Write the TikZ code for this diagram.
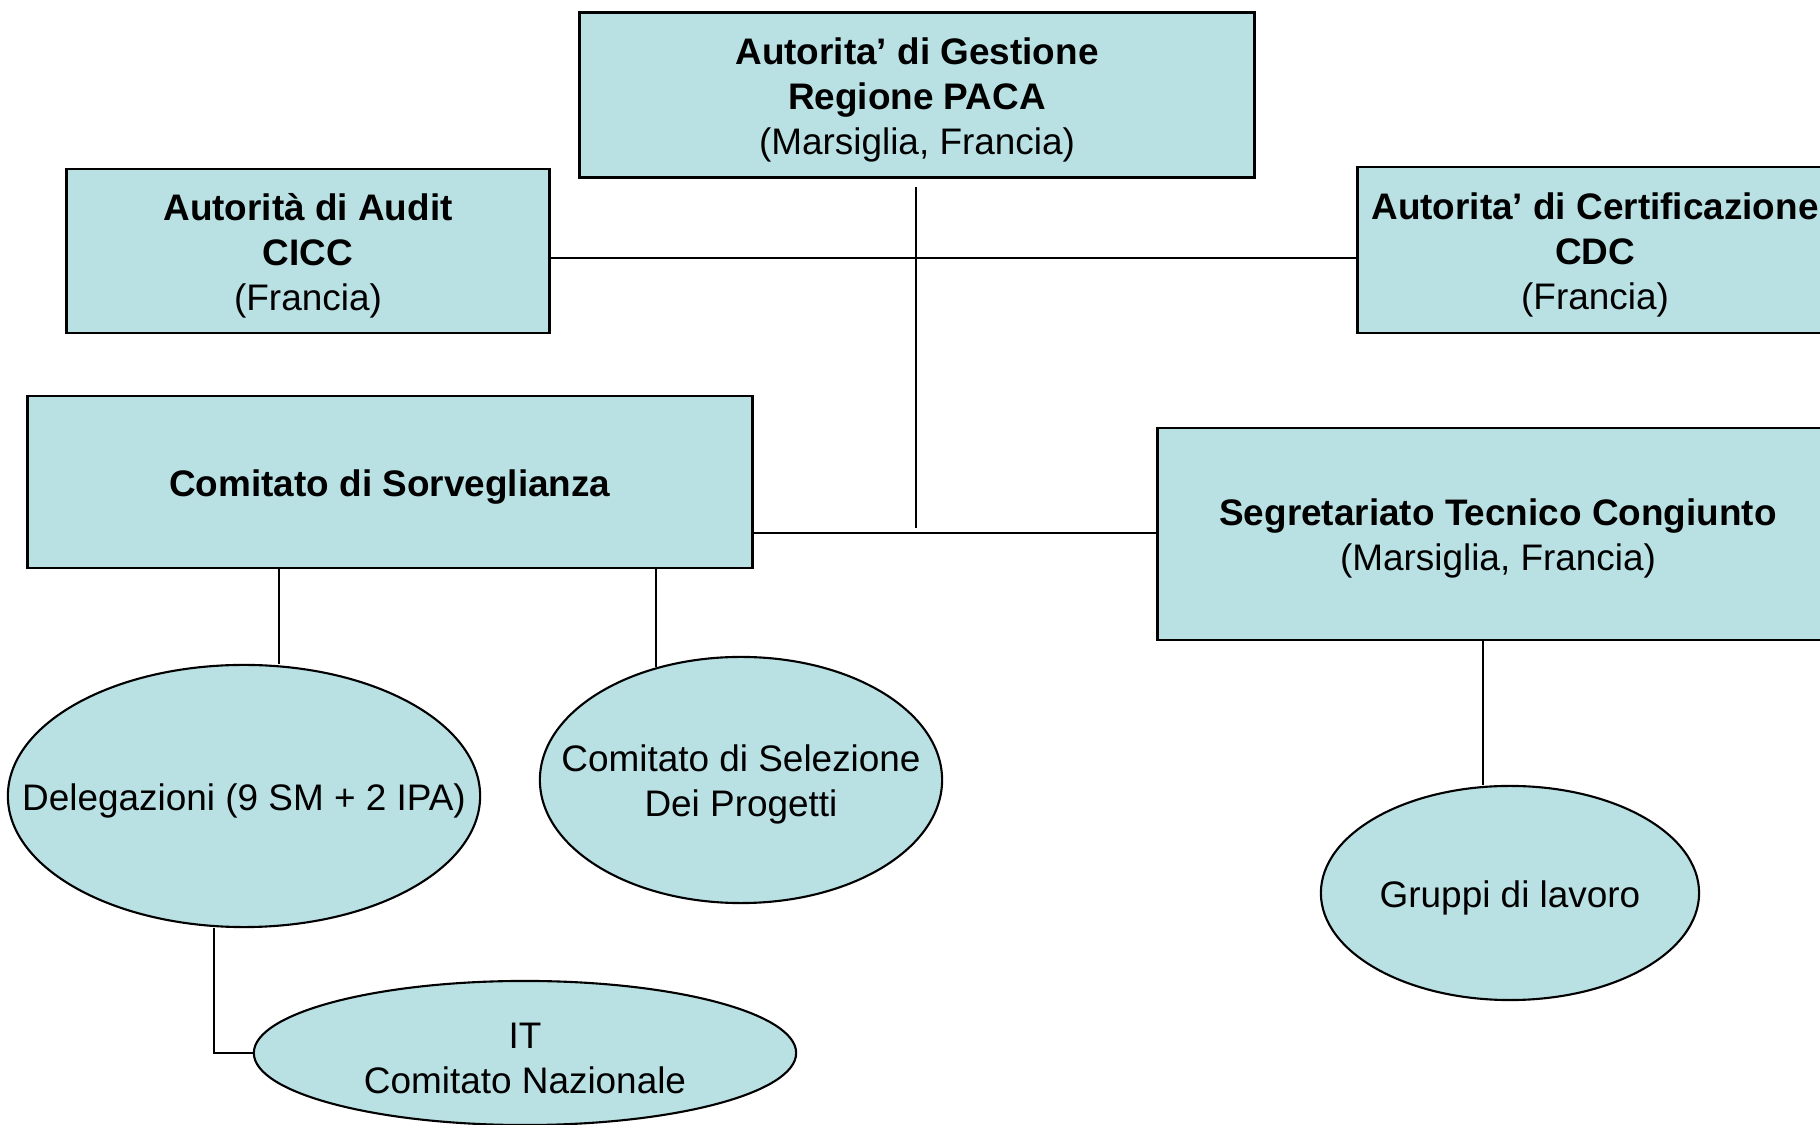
\documentclass[tikz,border=0pt]{standalone}
\usepackage{fontspec}
\setmainfont{Liberation Sans}
\usetikzlibrary{shapes.geometric}
\definecolor{boxfill}{RGB}{185,224,227}
\newcommand\toppad{\rule{0pt}{10.2pt}}

\begin{document}
\begin{tikzpicture}[x=0.01cm, y=-0.01cm]
    \tikzset{office/.style={rectangle, draw, line width=0.8pt, fill=boxfill,
        align=center, inner sep=0pt, font=\fontsize{10.5}{12.8}\selectfont,
        execute at begin node={\rule{0pt}{10.5pt}}}}
    \tikzset{group/.style={ellipse, draw, line width=0.6pt, fill=boxfill,
        align=center, inner xsep=-3cm, inner ysep=-1cm,
        font=\fontsize{10.5}{12.8}\selectfont,
        execute at begin node={\rule{0pt}{10.5pt}}}}
    \tikzset{link/.style={line width=0.6pt}}

    \useasboundingbox (0,0) rectangle (1820,1125);

    \node (gestione) [office, minimum width=6.75cm, minimum height=1.65cm]
        at (917,95) {\toppad\textbf{Autorita’ di Gestione}\\\textbf{Regione PACA}\\(Marsiglia, Francia)};
    \node (audit) [office, minimum width=4.83cm, minimum height=1.64cm]
        at (308,251) {\toppad\textbf{Autorità di Audit}\\\textbf{CICC}\\(Francia)};
    \node (certif) [office, minimum width=4.74cm, minimum height=1.66cm]
        at (1595,250) {\toppad\textbf{Autorita’ di Certificazione}\\\textbf{CDC}\\(Francia)};
    \node (sorv) [office, minimum width=7.25cm, minimum height=1.72cm]
        at (390,482) {\textbf{Comitato di Sorveglianza}};
    \node (segr) [office, minimum width=6.8cm, minimum height=2.12cm]
        at (1498,534) {\toppad\textbf{Segretariato Tecnico Congiunto}\\(Marsiglia, Francia)};

    \node (deleg) [group, minimum width=4.72cm, minimum height=2.62cm]
        at (244,796) {Delegazioni (9 SM + 2 IPA)};
    \node (selez) [group, minimum width=4.02cm, minimum height=2.46cm]
        at (741,780) {\toppad Comitato di Selezione\\Dei Progetti};
    \node (gruppi) [group, minimum width=3.78cm, minimum height=2.14cm]
        at (1510,893) {Gruppi di lavoro};
    \node (it) [group, minimum width=5.42cm, minimum height=1.44cm]
        at (525,1053) {\toppad IT\\Comitato Nazionale};

    \coordinate (cross) at (916,258);
    \coordinate (foot) at (916,528);
    \coordinate (mid) at (916,533);

    \draw [link] ([yshift=-0.08cm]gestione.south -| foot) -- (foot);
    \draw [link] (audit.east |- cross) -- (certif.west |- cross);
    \draw [link] (sorv.east |- mid) -- (segr.west |- mid);
    \draw [link] ([xshift=0.35cm]deleg.north) -- ([xshift=0.35cm]deleg.north |- sorv.south);
    \draw [link] (selez.127) -- (selez.127 |- sorv.south);
    \draw [link] ([xshift=-0.27cm]gruppi.north) -- ([xshift=-0.27cm]gruppi.north |- segr.south);
    \draw [link] ([xshift=-0.3cm]deleg.south) |- (it.west);
\end{tikzpicture}
\end{document}
